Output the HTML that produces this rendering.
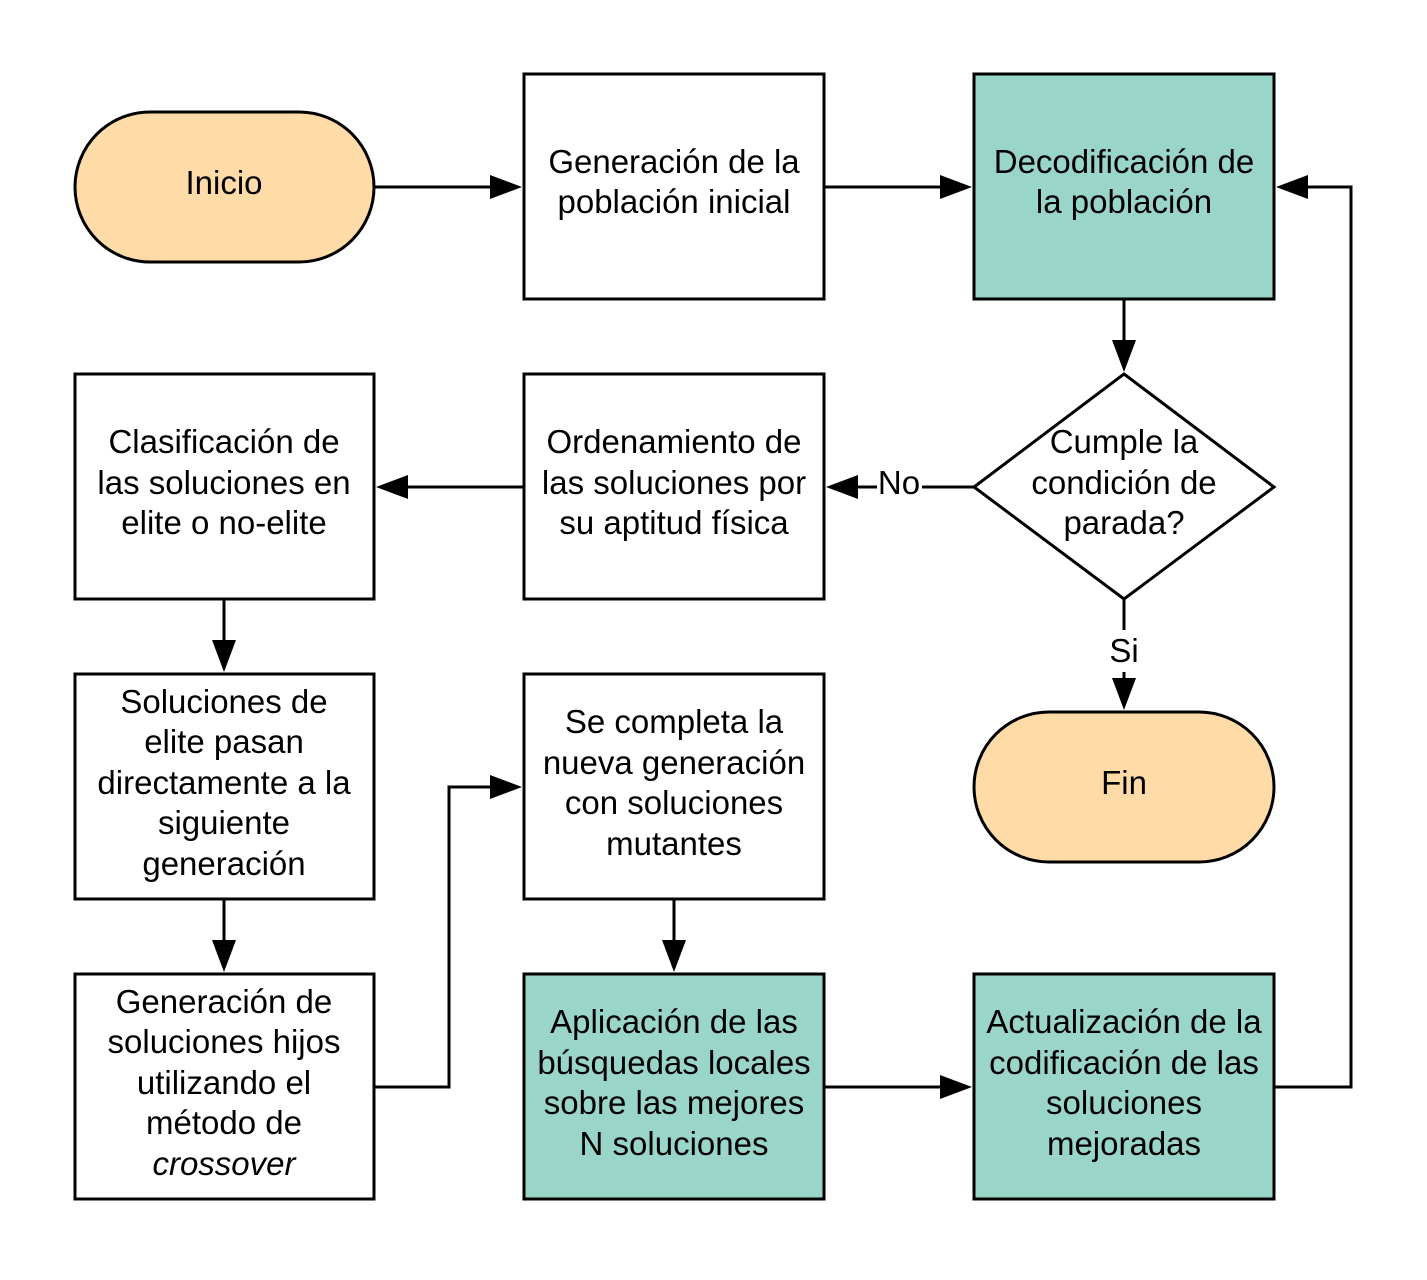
<!DOCTYPE html>
<html><head><meta charset="utf-8"><style>
html,body{margin:0;padding:0;background:#fff;}
svg text{font-family:"Liberation Sans",Arial,sans-serif;font-size:33px;fill:#000;text-anchor:middle;}
</style></head><body>
<svg width="1427" height="1275" viewBox="0 0 1427 1275" xmlns="http://www.w3.org/2000/svg">
<g stroke="#000" stroke-width="3">
<rect x="75" y="112" width="299" height="150" rx="75" fill="#FFDBA8"/>
<rect x="524" y="74" width="300" height="225" fill="#fff"/>
<rect x="974" y="74" width="300" height="225" fill="#9AD5C9"/>
<polygon points="1124,374 1274,487 1124,599 974,487" fill="#fff"/>
<rect x="524" y="374" width="300" height="225" fill="#fff"/>
<rect x="75" y="374" width="299" height="225" fill="#fff"/>
<rect x="75" y="674" width="299" height="225" fill="#fff"/>
<rect x="75" y="974" width="299" height="225" fill="#fff"/>
<rect x="524" y="674" width="300" height="225" fill="#fff"/>
<rect x="524" y="974" width="300" height="225" fill="#9AD5C9"/>
<rect x="974" y="974" width="300" height="225" fill="#9AD5C9"/>
<rect x="974" y="712" width="300" height="150" rx="75" fill="#FFDBA8"/>
<g fill="none">
<path d="M374 187H495"/>
<path d="M824 187H945"/>
<path d="M1124 299V345"/>
<path d="M974 487H922"/>
<path d="M877 487H855"/>
<path d="M524 487H405"/>
<path d="M224 599V645"/>
<path d="M224 899V945"/>
<path d="M374 1087H449V787H495"/>
<path d="M674 899V945"/>
<path d="M824 1087H945"/>
<path d="M1274 1087H1351V187H1305"/>
<path d="M1124 599V630"/>
<path d="M1124 672V683"/>
</g>
</g>
<g fill="#000">
<polygon points="522,187 490,175 490,199"/>
<polygon points="972,187 940,175 940,199"/>
<polygon points="1124,372 1112,340 1136,340"/>
<polygon points="826,487 858,475 858,499"/>
<polygon points="376,487 408,475 408,499"/>
<polygon points="224,672 212,640 236,640"/>
<polygon points="224,972 212,940 236,940"/>
<polygon points="522,787 490,775 490,799"/>
<polygon points="674,972 662,940 686,940"/>
<polygon points="972,1087 940,1075 940,1099"/>
<polygon points="1276,187 1308,175 1308,199"/>
<polygon points="1124,710 1112,678 1136,678"/>
</g>
<text x="224" y="194">Inicio</text>
<text x="674" y="173">Generación de la</text>
<text x="674" y="213">población inicial</text>
<text x="1124" y="173">Decodificación de</text>
<text x="1124" y="213">la población</text>
<text x="1124" y="453">Cumple la</text>
<text x="1124" y="494">condición de</text>
<text x="1124" y="534">parada?</text>
<text x="899" y="494">No</text>
<text x="1124" y="662">Si</text>
<text x="674" y="453">Ordenamiento de</text>
<text x="674" y="494">las soluciones por</text>
<text x="674" y="534">su aptitud física</text>
<text x="224" y="453">Clasificación de</text>
<text x="224" y="494">las soluciones en</text>
<text x="224" y="534">elite o no-elite</text>
<text x="224" y="713">Soluciones de</text>
<text x="224" y="753">elite pasan</text>
<text x="224" y="794">directamente a la</text>
<text x="224" y="834">siguiente</text>
<text x="224" y="875">generación</text>
<text x="224" y="1013">Generación de</text>
<text x="224" y="1053">soluciones hijos</text>
<text x="224" y="1094">utilizando el</text>
<text x="224" y="1134">método de</text>
<text x="224" y="1175" font-style="italic">crossover</text>
<text x="674" y="733">Se completa la</text>
<text x="674" y="774">nueva generación</text>
<text x="674" y="814">con soluciones</text>
<text x="674" y="855">mutantes</text>
<text x="674" y="1033">Aplicación de las</text>
<text x="674" y="1074">búsquedas locales</text>
<text x="674" y="1114">sobre las mejores</text>
<text x="674" y="1155">N soluciones</text>
<text x="1124" y="1033">Actualización de la</text>
<text x="1124" y="1074">codificación de las</text>
<text x="1124" y="1114">soluciones</text>
<text x="1124" y="1155">mejoradas</text>
<text x="1124" y="794">Fin</text>
</svg>
</body></html>
